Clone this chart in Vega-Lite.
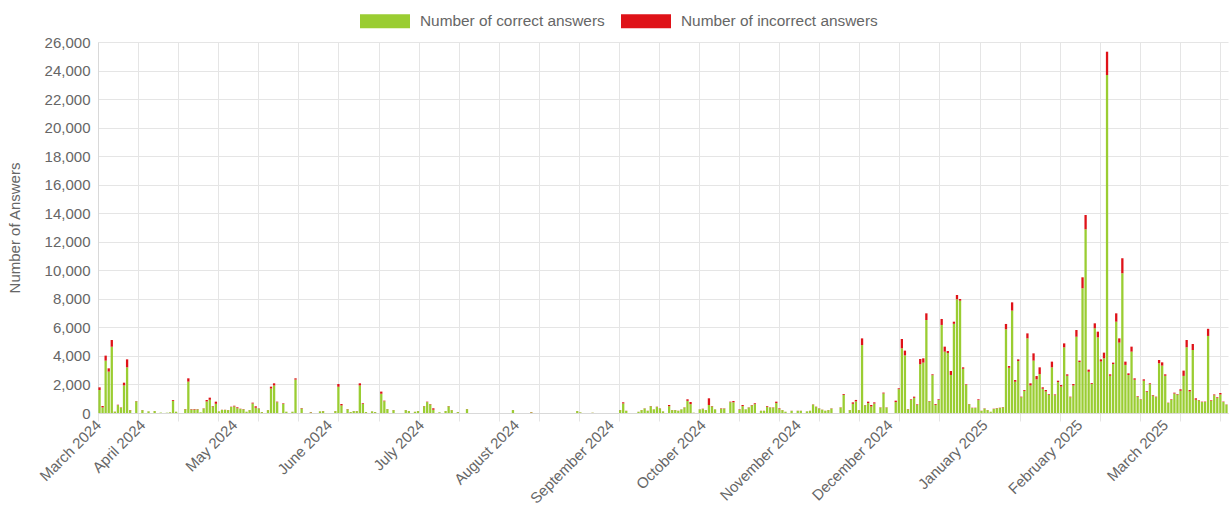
{
"$schema": "https://vega.github.io/schema/vega-lite/v6.json",
"width": 1130, "height": 371,
"autosize": {"type": "none"},
"padding": {"left": 98, "top": 42, "right": 2, "bottom": 93},
"background": "white",
"config": {"view": {"stroke": null}, "font": "Liberation Sans"},
"data": {"values": [
{"date":"2024-03-18","correct":1610,"incorrect":190},
{"date":"2024-03-19","correct":390,"incorrect":100},
{"date":"2024-03-20","correct":3670,"incorrect":350},
{"date":"2024-03-21","correct":2900,"incorrect":230},
{"date":"2024-03-22","correct":4645,"incorrect":470},
{"date":"2024-03-23","correct":90,"incorrect":10},
{"date":"2024-03-24","correct":550,"incorrect":30},
{"date":"2024-03-25","correct":380,"incorrect":20},
{"date":"2024-03-26","correct":1935,"incorrect":190},
{"date":"2024-03-27","correct":3200,"incorrect":560},
{"date":"2024-03-28","correct":190,"incorrect":20},
{"date":"2024-03-30","correct":820,"incorrect":20},
{"date":"2024-04-01","correct":200,"incorrect":10},
{"date":"2024-04-03","correct":115,"incorrect":5},
{"date":"2024-04-05","correct":135,"incorrect":5},
{"date":"2024-04-07","correct":30,"incorrect":0},
{"date":"2024-04-09","correct":20,"incorrect":0},
{"date":"2024-04-10","correct":45,"incorrect":5},
{"date":"2024-04-11","correct":850,"incorrect":60},
{"date":"2024-04-12","correct":85,"incorrect":5},
{"date":"2024-04-15","correct":260,"incorrect":20},
{"date":"2024-04-16","correct":2200,"incorrect":230},
{"date":"2024-04-17","correct":250,"incorrect":30},
{"date":"2024-04-18","correct":240,"incorrect":40},
{"date":"2024-04-19","correct":260,"incorrect":20},
{"date":"2024-04-20","correct":50,"incorrect":0},
{"date":"2024-04-21","correct":310,"incorrect":20},
{"date":"2024-04-22","correct":810,"incorrect":100},
{"date":"2024-04-23","correct":925,"incorrect":150},
{"date":"2024-04-24","correct":460,"incorrect":30},
{"date":"2024-04-25","correct":645,"incorrect":150},
{"date":"2024-04-26","correct":110,"incorrect":10},
{"date":"2024-04-27","correct":220,"incorrect":10},
{"date":"2024-04-28","correct":220,"incorrect":10},
{"date":"2024-04-29","correct":200,"incorrect":10},
{"date":"2024-04-30","correct":420,"incorrect":20},
{"date":"2024-05-01","correct":460,"incorrect":50},
{"date":"2024-05-02","correct":340,"incorrect":60},
{"date":"2024-05-03","correct":280,"incorrect":20},
{"date":"2024-05-04","correct":260,"incorrect":20},
{"date":"2024-05-05","correct":85,"incorrect":5},
{"date":"2024-05-06","correct":200,"incorrect":10},
{"date":"2024-05-07","correct":665,"incorrect":60},
{"date":"2024-05-08","correct":370,"incorrect":100},
{"date":"2024-05-09","correct":310,"incorrect":20},
{"date":"2024-05-10","correct":65,"incorrect":5},
{"date":"2024-05-12","correct":200,"incorrect":10},
{"date":"2024-05-13","correct":1715,"incorrect":130},
{"date":"2024-05-14","correct":1930,"incorrect":150},
{"date":"2024-05-15","correct":755,"incorrect":40},
{"date":"2024-05-17","correct":640,"incorrect":40},
{"date":"2024-05-18","correct":85,"incorrect":5},
{"date":"2024-05-20","correct":85,"incorrect":5},
{"date":"2024-05-21","correct":2340,"incorrect":90},
{"date":"2024-05-23","correct":320,"incorrect":30},
{"date":"2024-05-26","correct":50,"incorrect":20},
{"date":"2024-05-29","correct":115,"incorrect":5},
{"date":"2024-05-30","correct":130,"incorrect":10},
{"date":"2024-06-03","correct":130,"incorrect":10},
{"date":"2024-06-04","correct":1840,"incorrect":190},
{"date":"2024-06-05","correct":530,"incorrect":100},
{"date":"2024-06-07","correct":260,"incorrect":20},
{"date":"2024-06-08","correct":65,"incorrect":5},
{"date":"2024-06-09","correct":135,"incorrect":5},
{"date":"2024-06-10","correct":130,"incorrect":10},
{"date":"2024-06-11","correct":1930,"incorrect":150},
{"date":"2024-06-12","correct":630,"incorrect":50},
{"date":"2024-06-13","correct":65,"incorrect":5},
{"date":"2024-06-15","correct":115,"incorrect":5},
{"date":"2024-06-16","correct":65,"incorrect":5},
{"date":"2024-06-18","correct":1350,"incorrect":150},
{"date":"2024-06-19","correct":825,"incorrect":40},
{"date":"2024-06-20","correct":270,"incorrect":10},
{"date":"2024-06-22","correct":200,"incorrect":10},
{"date":"2024-06-26","correct":200,"incorrect":10},
{"date":"2024-06-27","correct":135,"incorrect":5},
{"date":"2024-06-29","correct":85,"incorrect":5},
{"date":"2024-06-30","correct":135,"incorrect":5},
{"date":"2024-07-02","correct":470,"incorrect":20},
{"date":"2024-07-03","correct":765,"incorrect":30},
{"date":"2024-07-04","correct":600,"incorrect":30},
{"date":"2024-07-05","correct":230,"incorrect":100},
{"date":"2024-07-07","correct":50,"incorrect":0},
{"date":"2024-07-09","correct":135,"incorrect":5},
{"date":"2024-07-10","correct":470,"incorrect":20},
{"date":"2024-07-11","correct":200,"incorrect":10},
{"date":"2024-07-13","correct":65,"incorrect":5},
{"date":"2024-07-16","correct":270,"incorrect":10},
{"date":"2024-07-31","correct":205,"incorrect":5},
{"date":"2024-08-06","correct":50,"incorrect":20},
{"date":"2024-08-21","correct":135,"incorrect":5},
{"date":"2024-08-22","correct":45,"incorrect":5},
{"date":"2024-08-26","correct":20,"incorrect":5},
{"date":"2024-09-04","correct":200,"incorrect":10},
{"date":"2024-09-05","correct":670,"incorrect":80},
{"date":"2024-09-06","correct":150,"incorrect":10},
{"date":"2024-09-10","correct":85,"incorrect":5},
{"date":"2024-09-11","correct":200,"incorrect":10},
{"date":"2024-09-12","correct":315,"incorrect":15},
{"date":"2024-09-13","correct":150,"incorrect":10},
{"date":"2024-09-14","correct":470,"incorrect":20},
{"date":"2024-09-15","correct":250,"incorrect":10},
{"date":"2024-09-16","correct":425,"incorrect":20},
{"date":"2024-09-17","correct":310,"incorrect":20},
{"date":"2024-09-18","correct":115,"incorrect":5},
{"date":"2024-09-20","correct":480,"incorrect":80},
{"date":"2024-09-21","correct":200,"incorrect":10},
{"date":"2024-09-22","correct":200,"incorrect":10},
{"date":"2024-09-23","correct":150,"incorrect":10},
{"date":"2024-09-24","correct":250,"incorrect":10},
{"date":"2024-09-25","correct":380,"incorrect":20},
{"date":"2024-09-26","correct":850,"incorrect":110},
{"date":"2024-09-27","correct":620,"incorrect":150},
{"date":"2024-09-28","correct":25,"incorrect":0},
{"date":"2024-09-30","correct":250,"incorrect":10},
{"date":"2024-10-01","correct":280,"incorrect":20},
{"date":"2024-10-02","correct":200,"incorrect":10},
{"date":"2024-10-03","correct":560,"incorrect":470},
{"date":"2024-10-04","correct":460,"incorrect":30},
{"date":"2024-10-05","correct":250,"incorrect":10},
{"date":"2024-10-07","correct":300,"incorrect":30},
{"date":"2024-10-08","correct":310,"incorrect":20},
{"date":"2024-10-10","correct":755,"incorrect":40},
{"date":"2024-10-11","correct":750,"incorrect":90},
{"date":"2024-10-13","correct":230,"incorrect":30},
{"date":"2024-10-14","correct":480,"incorrect":80},
{"date":"2024-10-15","correct":250,"incorrect":10},
{"date":"2024-10-16","correct":380,"incorrect":20},
{"date":"2024-10-17","correct":530,"incorrect":30},
{"date":"2024-10-18","correct":620,"incorrect":60},
{"date":"2024-10-20","correct":150,"incorrect":10},
{"date":"2024-10-21","correct":150,"incorrect":10},
{"date":"2024-10-22","correct":440,"incorrect":50},
{"date":"2024-10-23","correct":380,"incorrect":20},
{"date":"2024-10-24","correct":380,"incorrect":20},
{"date":"2024-10-25","correct":695,"incorrect":100},
{"date":"2024-10-26","correct":290,"incorrect":40},
{"date":"2024-10-27","correct":200,"incorrect":10},
{"date":"2024-10-28","correct":85,"incorrect":5},
{"date":"2024-10-30","correct":150,"incorrect":10},
{"date":"2024-11-01","correct":150,"incorrect":10},
{"date":"2024-11-02","correct":150,"incorrect":10},
{"date":"2024-11-04","correct":115,"incorrect":5},
{"date":"2024-11-05","correct":150,"incorrect":10},
{"date":"2024-11-06","correct":590,"incorrect":20},
{"date":"2024-11-07","correct":425,"incorrect":20},
{"date":"2024-11-08","correct":310,"incorrect":20},
{"date":"2024-11-09","correct":230,"incorrect":10},
{"date":"2024-11-10","correct":150,"incorrect":10},
{"date":"2024-11-11","correct":200,"incorrect":10},
{"date":"2024-11-12","correct":310,"incorrect":20},
{"date":"2024-11-15","correct":380,"incorrect":20},
{"date":"2024-11-16","correct":1270,"incorrect":60},
{"date":"2024-11-18","correct":200,"incorrect":10},
{"date":"2024-11-19","correct":645,"incorrect":100},
{"date":"2024-11-20","correct":815,"incorrect":100},
{"date":"2024-11-21","correct":200,"incorrect":10},
{"date":"2024-11-22","correct":4760,"incorrect":470},
{"date":"2024-11-23","correct":540,"incorrect":20},
{"date":"2024-11-24","correct":695,"incorrect":100},
{"date":"2024-11-25","correct":460,"incorrect":100},
{"date":"2024-11-26","correct":665,"incorrect":80},
{"date":"2024-11-28","correct":380,"incorrect":20},
{"date":"2024-11-29","correct":1370,"incorrect":60},
{"date":"2024-11-30","correct":380,"incorrect":20},
{"date":"2024-12-03","correct":765,"incorrect":100},
{"date":"2024-12-04","correct":1670,"incorrect":60},
{"date":"2024-12-05","correct":4535,"incorrect":650},
{"date":"2024-12-06","correct":4040,"incorrect":330},
{"date":"2024-12-07","correct":260,"incorrect":20},
{"date":"2024-12-08","correct":920,"incorrect":40},
{"date":"2024-12-09","correct":1065,"incorrect":80},
{"date":"2024-12-10","correct":570,"incorrect":40},
{"date":"2024-12-11","correct":3415,"incorrect":370},
{"date":"2024-12-12","correct":3530,"incorrect":300},
{"date":"2024-12-13","correct":6515,"incorrect":470},
{"date":"2024-12-14","correct":810,"incorrect":30},
{"date":"2024-12-15","correct":2650,"incorrect":60},
{"date":"2024-12-16","correct":570,"incorrect":60},
{"date":"2024-12-17","correct":910,"incorrect":50},
{"date":"2024-12-18","correct":6170,"incorrect":420},
{"date":"2024-12-19","correct":4300,"incorrect":350},
{"date":"2024-12-20","correct":4195,"incorrect":150},
{"date":"2024-12-21","correct":2665,"incorrect":280},
{"date":"2024-12-22","correct":6250,"incorrect":150},
{"date":"2024-12-23","correct":7970,"incorrect":300},
{"date":"2024-12-24","correct":7870,"incorrect":120},
{"date":"2024-12-25","correct":3100,"incorrect":100},
{"date":"2024-12-26","correct":1970,"incorrect":40},
{"date":"2024-12-27","correct":610,"incorrect":20},
{"date":"2024-12-28","correct":350,"incorrect":20},
{"date":"2024-12-29","correct":350,"incorrect":20},
{"date":"2024-12-30","correct":900,"incorrect":60},
{"date":"2024-12-31","correct":150,"incorrect":10},
{"date":"2025-01-01","correct":310,"incorrect":20},
{"date":"2025-01-02","correct":200,"incorrect":10},
{"date":"2025-01-03","correct":85,"incorrect":5},
{"date":"2025-01-04","correct":280,"incorrect":20},
{"date":"2025-01-05","correct":330,"incorrect":20},
{"date":"2025-01-06","correct":350,"incorrect":20},
{"date":"2025-01-07","correct":400,"incorrect":20},
{"date":"2025-01-08","correct":5870,"incorrect":370},
{"date":"2025-01-09","correct":3170,"incorrect":120},
{"date":"2025-01-10","correct":7175,"incorrect":580},
{"date":"2025-01-11","correct":2190,"incorrect":120},
{"date":"2025-01-12","correct":3640,"incorrect":120},
{"date":"2025-01-13","correct":1105,"incorrect":40},
{"date":"2025-01-14","correct":1550,"incorrect":60},
{"date":"2025-01-15","correct":5230,"incorrect":350},
{"date":"2025-01-16","correct":1930,"incorrect":150},
{"date":"2025-01-17","correct":3670,"incorrect":510},
{"date":"2025-01-18","correct":2360,"incorrect":230},
{"date":"2025-01-19","correct":2730,"incorrect":470},
{"date":"2025-01-20","correct":1700,"incorrect":100},
{"date":"2025-01-21","correct":1510,"incorrect":100},
{"date":"2025-01-22","correct":1260,"incorrect":50},
{"date":"2025-01-23","correct":3200,"incorrect":400},
{"date":"2025-01-24","correct":1250,"incorrect":50},
{"date":"2025-01-25","correct":2165,"incorrect":100},
{"date":"2025-01-26","correct":1860,"incorrect":100},
{"date":"2025-01-27","correct":4600,"incorrect":280},
{"date":"2025-01-28","correct":2610,"incorrect":100},
{"date":"2025-01-29","correct":1105,"incorrect":40},
{"date":"2025-01-30","correct":1930,"incorrect":100},
{"date":"2025-01-31","correct":5345,"incorrect":470},
{"date":"2025-02-01","correct":3570,"incorrect":100},
{"date":"2025-02-02","correct":8740,"incorrect":770},
{"date":"2025-02-03","correct":12875,"incorrect":1000},
{"date":"2025-02-04","correct":2890,"incorrect":150},
{"date":"2025-02-05","correct":2040,"incorrect":60},
{"date":"2025-02-06","correct":5935,"incorrect":350},
{"date":"2025-02-07","correct":5300,"incorrect":400},
{"date":"2025-02-08","correct":3610,"incorrect":150},
{"date":"2025-02-09","correct":3830,"incorrect":400},
{"date":"2025-02-10","correct":23685,"incorrect":1635},
{"date":"2025-02-11","correct":2610,"incorrect":100},
{"date":"2025-02-12","correct":3430,"incorrect":100},
{"date":"2025-02-13","correct":6400,"incorrect":585},
{"date":"2025-02-14","correct":4930,"incorrect":300},
{"date":"2025-02-15","correct":9790,"incorrect":1050},
{"date":"2025-02-16","correct":3370,"incorrect":230},
{"date":"2025-02-17","correct":2660,"incorrect":120},
{"date":"2025-02-18","correct":4300,"incorrect":350},
{"date":"2025-02-19","correct":2330,"incorrect":100},
{"date":"2025-02-20","correct":1150,"incorrect":40},
{"date":"2025-02-21","correct":930,"incorrect":30},
{"date":"2025-02-22","correct":2260,"incorrect":100},
{"date":"2025-02-23","correct":1490,"incorrect":50},
{"date":"2025-02-24","correct":2020,"incorrect":60},
{"date":"2025-02-25","correct":1220,"incorrect":40},
{"date":"2025-02-26","correct":1105,"incorrect":40},
{"date":"2025-02-27","correct":3485,"incorrect":230},
{"date":"2025-02-28","correct":3320,"incorrect":230},
{"date":"2025-03-01","correct":2610,"incorrect":100},
{"date":"2025-03-02","correct":705,"incorrect":20},
{"date":"2025-03-03","correct":920,"incorrect":40},
{"date":"2025-03-04","correct":1365,"incorrect":60},
{"date":"2025-03-05","correct":1290,"incorrect":40},
{"date":"2025-03-06","correct":1560,"incorrect":100},
{"date":"2025-03-07","correct":2600,"incorrect":370},
{"date":"2025-03-08","correct":4605,"incorrect":510},
{"date":"2025-03-09","correct":1510,"incorrect":100},
{"date":"2025-03-10","correct":4415,"incorrect":420},
{"date":"2025-03-11","correct":930,"incorrect":100},
{"date":"2025-03-12","correct":880,"incorrect":30},
{"date":"2025-03-13","correct":765,"incorrect":30},
{"date":"2025-03-14","correct":770,"incorrect":30},
{"date":"2025-03-15","correct":5400,"incorrect":500},
{"date":"2025-03-16","correct":860,"incorrect":40},
{"date":"2025-03-17","correct":1240,"incorrect":60},
{"date":"2025-03-18","correct":1050,"incorrect":50},
{"date":"2025-03-19","correct":1300,"incorrect":100},
{"date":"2025-03-20","correct":770,"incorrect":30},
{"date":"2025-03-21","correct":580,"incorrect":20}
]},
"transform": [{"fold": ["correct", "incorrect"], "as": ["series", "count"]}],
"mark": {"type": "bar", "size": 2.3},
"encoding": {
  "x": {"field": "date", "type": "temporal",
    "scale": {"type": "utc", "domain": [1710676800000, 1742558400000], "padding": 0},
    "axis": {
      "title": null,
      "values": [1710678600000,1711809000000,1712939400000,1714069800000,1715200200000,1716330600000,1717461000000,1718591400000,1719721800000,1720852200000,1721982600000,1723113000000,1724243400000,1725373800000,1726504200000,1727634600000,1728765000000,1729895400000,1731025800000,1732156200000,1733286600000,1734417000000,1735547400000,1736677800000,1737808200000,1738938600000,1740069000000,1741199400000,1742329800000,1711929600000,1714521600000,1717200000000,1719792000000,1722470400000,1725148800000,1727740800000,1730419200000,1733011200000,1735689600000,1738368000000,1740787200000],
      "labelExpr": "time(datum.value) == 1710678600000 ? 'March 2024' : (utcminutes(datum.value) == 30 ? '' : utcFormat(datum.value, '%B %Y'))",
      "labelAngle": -45, "labelAlign": "right", "labelBaseline": "middle",
      "labelOverlap": false, "labelBound": false, "labelFlush": false, "labelLimit": 0,
      "labelColor": "#666666", "labelFontSize": 15, "labelPadding": 1,
      "grid": true, "gridColor": "#e5e5e5",
      "gridOpacity": {"condition": {"test": "utcminutes(datum.value) == 30", "value": 1}, "value": 0},
      "ticks": true, "tickColor": "#e5e5e5", "tickSize": 8,
      "tickOpacity": {"condition": {"test": "utcminutes(datum.value) == 30", "value": 1}, "value": 0},
      "domainColor": "#d9d9d9"
    }},
  "y": {"field": "count", "type": "quantitative", "stack": "zero",
    "scale": {"domain": [0, 26000], "nice": false},
    "axis": {
      "values": [0,2000,4000,6000,8000,10000,12000,14000,16000,18000,20000,22000,24000,26000],
      "format": ",.0f", "labelColor": "#666666", "labelFontSize": 15, "labelPadding": 8,
      "ticks": false, "gridColor": "#e5e5e5", "domainColor": "#d9d9d9",
      "title": "Number of Answers", "titleColor": "#666666", "titleFontSize": 15,
      "titleFontWeight": "normal", "titleX": -84, "titleY": 185.5, "titleAngle": -90,
      "titleAlign": "center", "titleBaseline": "middle"
    }},
  "color": {"field": "series", "type": "nominal",
    "scale": {"domain": ["correct", "incorrect"], "range": ["#9ACD32", "#DF1218"]},
    "legend": {
      "orient": "none", "legendX": 262, "legendY": -46, "direction": "horizontal",
      "title": null, "symbolType": "M-1,-0.28L1,-0.28L1,0.28L-1,0.28Z", "symbolSize": 2500,
      "symbolStrokeWidth": 0, "labelFontSize": 15.4, "labelColor": "#666666", "labelLimit": 0,
      "labelOffset": 10, "columnPadding": 16, "padding": 0,
      "labelExpr": "datum.label == 'correct' ? 'Number of correct answers' : 'Number of incorrect answers'"
    }},
  "order": {"field": "series", "sort": "ascending"}
}
}
